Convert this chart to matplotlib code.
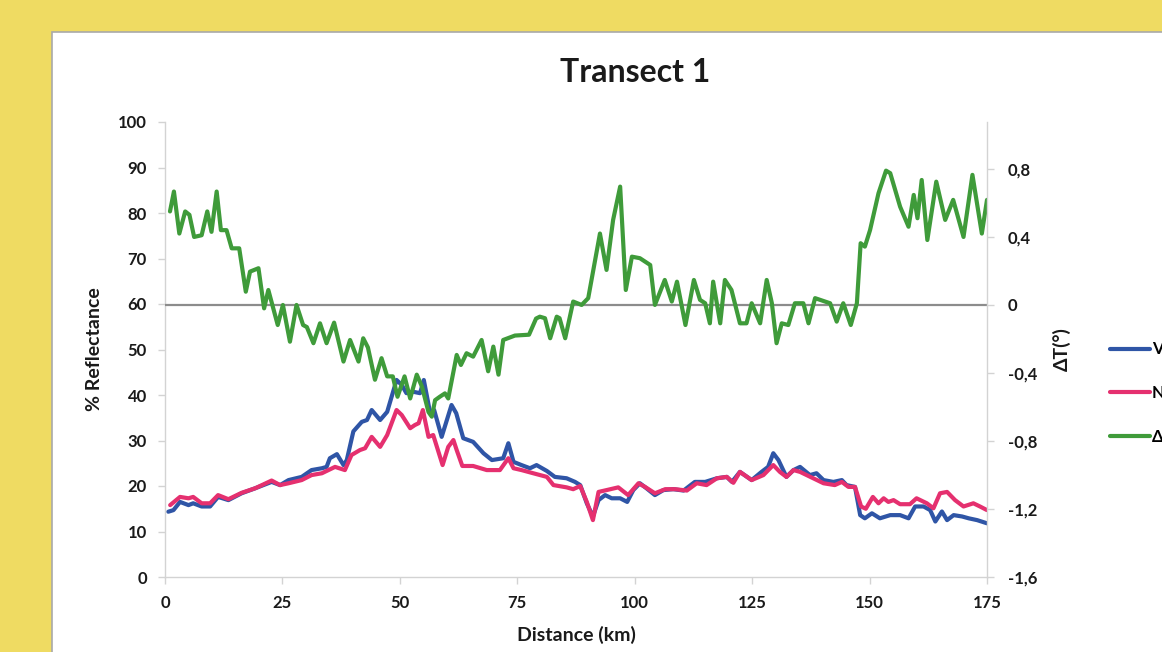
# Transect 1: reflectance (VIS / NIR) and temperature difference along the transect

import numpy as np
import matplotlib.pyplot as plt
from matplotlib.patches import Rectangle
from matplotlib.ticker import FuncFormatter

plt.rcParams['font.family'] = ['Lato', 'DejaVu Sans']
plt.rcParams['font.weight'] = 'bold'

# --- Data ---
vis_km = [0.7, 1.8, 3.2, 5.0, 6.0, 7.8, 9.6, 11.3, 13.5, 16.3, 19.2, 22.7, 24.5, 26.3, 29.1, 31.2,
          33.4, 34.4, 35.1, 36.6, 38.0, 38.7, 40.1, 41.9, 43.0, 44.0, 45.8, 47.3, 49.3, 50.4, 51.4,
          52.9, 54.3, 55.1, 56.4, 57.3, 58.9, 61.0, 62.0, 63.5, 65.6, 67.8, 69.6, 72.0, 73.1, 74.2,
          75.9, 77.7, 79.1, 81.3, 83.0, 85.5, 87.3, 88.4, 89.8, 91.1, 92.3, 93.7, 95.1, 96.9, 98.4,
          99.7, 101.1, 102.5, 104.3, 106.1, 108.2, 110.4, 112.8, 115.0, 117.5, 119.6, 120.7, 122.4,
          124.9, 127.0, 128.4, 129.5, 130.6, 132.3, 133.8, 135.2, 137.3, 138.7, 140.2, 142.3, 144.1,
          145.1, 146.9, 148.0, 149.0, 150.5, 152.2, 154.4, 156.5, 158.3, 159.7, 161.5, 162.9, 164.0,
          165.4, 166.5, 167.9, 169.7, 171.1, 172.9, 175.0]
vis_pct = [14.35, 14.7, 16.5, 15.8, 16.2, 15.5, 15.5, 17.6, 16.9, 18.4, 19.5, 20.9, 20.2, 21.3, 22.0,
           23.5, 23.9, 24.2, 26.1, 27.0, 24.6, 25.7, 32.0, 34.1, 34.5, 36.7, 34.5, 36.3, 43.3, 42.2,
           40.4, 40.7, 40.4, 43.3, 36.3, 36.7, 30.8, 37.8, 36.0, 30.5, 29.7, 27.2, 25.7, 26.1, 29.4,
           25.3, 24.6, 23.9, 24.6, 23.3, 22.0, 21.7, 20.9, 20.2, 16.2, 13.3, 16.9, 18.0, 17.3, 17.3,
           16.5, 19.1, 20.6, 19.5, 18.0, 19.1, 19.3, 19.0, 20.9, 20.9, 21.7, 22.0, 20.9, 23.1, 21.3,
           23.1, 24.2, 27.2, 25.7, 22.0, 23.5, 24.2, 22.4, 22.8, 21.3, 20.9, 21.3, 20.2, 19.8, 13.6,
           12.9, 14.0, 12.9, 13.6, 13.6, 12.9, 15.5, 15.5, 14.7, 12.2, 14.4, 12.5, 13.6, 13.3, 12.9,
           12.5, 11.8]

nir_km = [1.1, 3.2, 5.0, 6.0, 7.8, 9.6, 11.3, 13.5, 16.3, 19.2, 22.7, 24.5, 26.3, 29.1, 31.2, 33.4,
          36.2, 38.3, 39.7, 41.5, 42.6, 44.0, 45.8, 47.3, 49.3, 50.4, 52.2, 53.2, 54.0, 54.9, 56.1,
          57.1, 59.1, 60.3, 61.4, 62.1, 63.3, 65.6, 68.5, 71.3, 73.1, 74.2, 75.9, 78.4, 81.3, 82.7,
          85.5, 86.9, 88.4, 89.8, 91.1, 92.3, 94.0, 96.5, 98.6, 100.8, 102.2, 104.3, 106.5, 108.6,
          111.1, 113.2, 115.3, 117.5, 119.6, 121.0, 122.4, 124.9, 127.4, 129.5, 130.9, 132.3, 133.8,
          135.2, 138.0, 140.2, 142.6, 144.1, 145.5, 146.9, 148.2, 149.2, 150.7, 151.9, 153.0, 154.0,
          155.1, 156.5, 158.6, 160.0, 162.2, 163.6, 165.0, 166.5, 168.2, 170.0, 172.1, 173.5, 175.0]
nir_pct = [15.8, 17.6, 17.3, 17.6, 16.2, 16.2, 18.0, 17.1, 18.5, 19.5, 21.2, 20.2, 20.6, 21.3, 22.4,
           22.8, 24.2, 23.5, 26.8, 27.9, 28.3, 30.8, 28.6, 31.2, 36.7, 35.6, 32.7, 33.4, 33.8, 36.7,
           30.8, 31.2, 24.6, 28.6, 30.1, 27.9, 24.4, 24.4, 23.5, 23.5, 26.1, 23.9, 23.5, 22.8, 22.0,
           20.2, 19.7, 19.3, 20.0, 16.5, 12.5, 18.7, 19.1, 19.7, 18.0, 20.6, 19.8, 18.4, 19.3, 19.3,
           19.0, 20.6, 20.2, 21.7, 22.0, 20.7, 23.1, 21.3, 22.4, 24.6, 23.1, 22.0, 23.5, 23.1, 21.7,
           20.6, 20.2, 20.9, 19.8, 19.8, 15.5, 15.0, 17.6, 16.2, 17.3, 16.5, 16.9, 16.0, 16.0, 17.3,
           16.2, 15.1, 18.4, 18.7, 16.9, 15.5, 16.2, 15.5, 14.7]

dt_km = [1.06, 1.9, 3.05, 4.3, 5.2, 6.2, 7.8, 9.0, 9.9, 11.0, 11.9, 13.1, 14.2, 15.8, 17.2, 18.1,
         19.9, 21.1, 22.0, 24.0, 25.1, 26.6, 28.0, 29.4, 30.2, 31.6, 33.0, 34.4, 36.0, 38.0, 39.4,
         41.2, 42.2, 43.2, 44.7, 46.1, 47.3, 48.5, 49.5, 51.0, 52.2, 53.6, 54.7, 56.1, 56.8, 57.5,
         58.5, 59.6, 60.3, 62.1, 63.0, 64.2, 65.6, 67.4, 68.8, 69.9, 71.0, 72.0, 74.5, 77.5, 79.0,
         79.8, 80.9, 82.0, 83.4, 84.0, 85.2, 86.9, 88.7, 90.1, 92.6, 94.0, 95.4, 96.9, 98.1, 99.4,
         101.1, 103.3, 104.3, 106.4, 107.9, 109.0, 110.8, 112.6, 113.9, 115.0, 116.0, 116.7, 118.2,
         119.2, 120.6, 122.4, 123.8, 124.9, 126.7, 128.1, 129.2, 130.2, 131.3, 132.7, 134.1, 135.9,
         137.0, 138.4, 141.6, 143.0, 144.4, 146.0, 147.3, 148.1, 149.0, 150.1, 151.9, 153.5, 154.4,
         156.5, 158.3, 159.4, 160.2, 161.1, 162.3, 164.2, 166.1, 167.8, 170.0, 171.9, 173.9, 175.0]
dt_val = [0.55, 0.667, 0.42, 0.55, 0.53, 0.40, 0.41, 0.55, 0.43, 0.667, 0.44, 0.44, 0.333, 0.333,
          0.078, 0.196, 0.216, -0.02, 0.088, -0.118, 0.0, -0.216, 0.0, -0.118, -0.13, -0.225, -0.108,
          -0.225, -0.104, -0.333, -0.206, -0.333, -0.196, -0.25, -0.44, -0.313, -0.42, -0.42, -0.54,
          -0.42, -0.55, -0.41, -0.48, -0.63, -0.657, -0.56, -0.54, -0.52, -0.55, -0.294, -0.353,
          -0.284, -0.304, -0.206, -0.39, -0.245, -0.41, -0.206, -0.18, -0.175, -0.08, -0.069, -0.078,
          -0.196, -0.069, -0.078, -0.196, 0.02, 0.0, 0.04, 0.42, 0.206, 0.5, 0.696, 0.088, 0.284,
          0.275, 0.235, 0.0, 0.147, 0.02, 0.137, -0.118, 0.147, 0.03, 0.01, -0.108, 0.137, -0.108,
          0.147, 0.088, -0.108, -0.108, 0.01, -0.108, 0.147, 0.01, -0.225, -0.108, -0.118, 0.01,
          0.01, -0.108, 0.04, 0.01, -0.098, 0.01, -0.118, 0.01, 0.363, 0.343, 0.44, 0.657, 0.79,
          0.775, 0.578, 0.46, 0.647, 0.51, 0.735, 0.382, 0.725, 0.5, 0.618, 0.4, 0.765, 0.42, 0.618]

x_ticks = [0, 25, 50, 75, 100, 125, 150, 175]
refl_ticks = [0, 10, 20, 30, 40, 50, 60, 70, 80, 90, 100]
dt_ticks = [-1.6, -1.2, -0.8, -0.4, 0, 0.4, 0.8]

# --- Styling ---
blue = '#2F55A6'
pink = '#E5306F'
green = '#3F9B3A'
axis_grey = '#D3D3D3'
text_col = '#1A1A1A'

fig = plt.figure(figsize=(11.62, 6.52), dpi=100, facecolor='#EFDB62')

# white chart area sitting on the yellow page
panel = Rectangle((52 / 1162, -0.05), 1.2, 0.05 + (1 - 32 / 652), transform=fig.transFigure,
                  facecolor='white', edgecolor='#A9A9A9', linewidth=1.2, zorder=-10)
fig.patches.append(panel)

ax1 = fig.add_axes([165 / 1162, 1 - 577 / 652, (987 - 165) / 1162, (577 - 122) / 652])
ax1.patch.set_alpha(0)
ax2 = ax1.twinx()
ax2.patch.set_alpha(0)

lw = 3.0
l_vis, = ax1.plot(vis_km, vis_pct, color=blue, lw=lw, solid_joinstyle='round',
                  solid_capstyle='round', label='VIS')
l_nir, = ax1.plot(nir_km, nir_pct, color=pink, lw=lw, solid_joinstyle='round',
                  solid_capstyle='round', label='NIR')

ax2.axhline(0, color='#8C8C8C', lw=1.6, zorder=1)
l_dt, = ax2.plot(dt_km, dt_val, color=green, lw=lw, solid_joinstyle='round',
                 solid_capstyle='round', label='ΔT', zorder=2)

ax1.set_xlim(0, 175)
ax1.set_ylim(0, 100)
ax2.set_ylim(-1.6, 1.076)
ax1.set_xticks(x_ticks)
ax1.set_yticks(refl_ticks)
ax2.set_yticks(dt_ticks)
ax2.yaxis.set_major_formatter(FuncFormatter(lambda v, p: ('%g' % round(v, 1)).replace('.', ',')))

for ax in (ax1, ax2):
    for side in ('top', 'left', 'right', 'bottom'):
        ax.spines[side].set_visible(False)
ax1.spines['left'].set_visible(True)
ax1.spines['bottom'].set_visible(True)
ax2.spines['right'].set_visible(True)
for sp in (ax1.spines['left'], ax1.spines['bottom'], ax2.spines['right']):
    sp.set_color(axis_grey)
    sp.set_linewidth(1.0)

ax1.tick_params(axis='both', direction='out', length=5, width=1, color=axis_grey,
                labelsize=12, labelcolor=text_col, pad=8)
ax2.tick_params(axis='y', direction='out', length=5, width=1, color=axis_grey,
                labelsize=12, labelcolor=text_col, pad=10)
for lab in ax1.get_xticklabels() + ax1.get_yticklabels() + ax2.get_yticklabels():
    lab.set_fontweight('bold')

ax1.set_xlabel('Distance (km)', fontsize=14, fontweight='bold', color=text_col, labelpad=11)
ax1.set_ylabel('% Reflectance', fontsize=14, fontweight='bold', color=text_col, labelpad=11)
ax2.set_ylabel('ΔT(°)', fontsize=14, fontweight='bold', color=text_col, labelpad=11)

fig.text(635 / 1162, 1 - 73 / 652, 'Transect 1', ha='center', va='center',
         fontsize=23, fontweight='bold', color=text_col)

# legend runs off the right edge of the page
fig.legend([l_vis, l_nir, l_dt], ['VIS', 'NIR', 'ΔT'], loc='center left',
           bbox_to_anchor=(1110 / 1162, 1 - 393 / 652), frameon=False,
           handlelength=2.4, handletextpad=0.1, labelspacing=1.65, borderpad=0,
           borderaxespad=0, prop={'size': 12, 'weight': 'bold'})

fig.savefig('out.png', dpi=100, facecolor=fig.get_facecolor())
